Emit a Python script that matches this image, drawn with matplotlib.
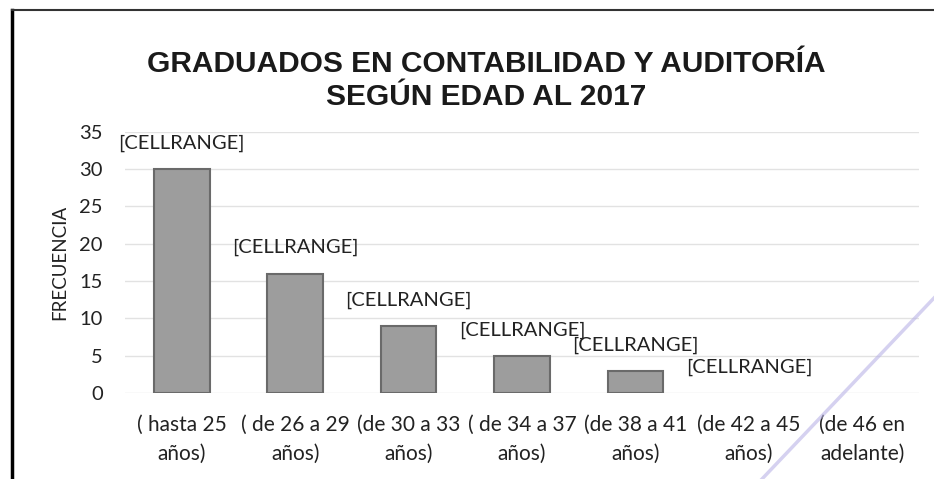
#!/usr/bin/env python3
import matplotlib
matplotlib.use('Agg')
import matplotlib.pyplot as plt
from matplotlib.lines import Line2D
import numpy as np

categorias = ['( hasta 25\naños)', '( de 26 a 29\naños)', '(de 30 a 33\naños)',
              '( de 34 a 37\naños)', '(de 38 a 41\naños)', '(de 42 a 45\naños)',
              '(de 46 en\nadelante)']
frecuencia = [30, 16, 9, 5, 3, 0, np.nan]
etiqueta = '[CELLRANGE]'
titulo = 'GRADUADOS EN CONTABILIDAD Y AUDITORÍA\nSEGÚN EDAD AL 2017'

plt.rcParams['font.family'] = ['Lato', 'DejaVu Sans']

fig = plt.figure(figsize=(9.34, 4.79), dpi=100)
ax = fig.add_axes([0.134, 0.1795, 0.85, 0.5458])

x = np.arange(len(categorias))
valores = np.nan_to_num(frecuencia)
anchos_borde = [1.5 if v > 0 else 0 for v in valores]
ax.bar(x, valores, width=0.49, color='#9d9d9d', edgecolor='#6a6a6a',
       linewidth=anchos_borde, zorder=3)

# etiquetas de datos (la ultima categoria no tiene)
for xi, v in zip(x, frecuencia):
    if np.isnan(v):
        continue
    ax.annotate(etiqueta, (xi, v), xytext=(0, 18.5), textcoords='offset points',
                ha='center', va='center', fontsize=14.5, color='#222222', zorder=4)

ax.set_xlim(-0.5, len(categorias) - 0.5)
ax.set_ylim(0, 35)
ax.set_yticks(range(0, 36, 5))
ax.set_xticks(x)
ax.set_xticklabels(categorias, fontsize=15, color='#222222', linespacing=1.55)
ax.tick_params(axis='y', length=0, pad=16, labelsize=14.5, labelcolor='#222222')
ax.tick_params(axis='x', length=0, pad=16)
ax.set_ylabel('FRECUENCIA', fontsize=13.5, color='#222222', labelpad=8)
ax.grid(axis='y', color='#e2e2e2', linewidth=1, zorder=0)
for s in ax.spines.values():
    s.set_visible(False)

fig.text(0.521, 0.832, titulo, ha='center', va='center', fontsize=21.5,
         fontweight='bold', family='Liberation Sans', color='#1a1a1a', linespacing=1.22)

# marco del grafico
fig.add_artist(Line2D([12/934, 12/934], [0, 1 - 10/479], color='black', linewidth=2.5))
fig.add_artist(Line2D([12/934, 1], [1 - 10/479, 1 - 10/479], color='#333333', linewidth=1.5))
# trazo de lapiz del escaneo
fig.add_artist(Line2D([762/934, 934/934], [0, 1 - 298/479], color='#b9b3e6', linewidth=2.5, alpha=0.6))

fig.savefig('out.png', dpi=100)
